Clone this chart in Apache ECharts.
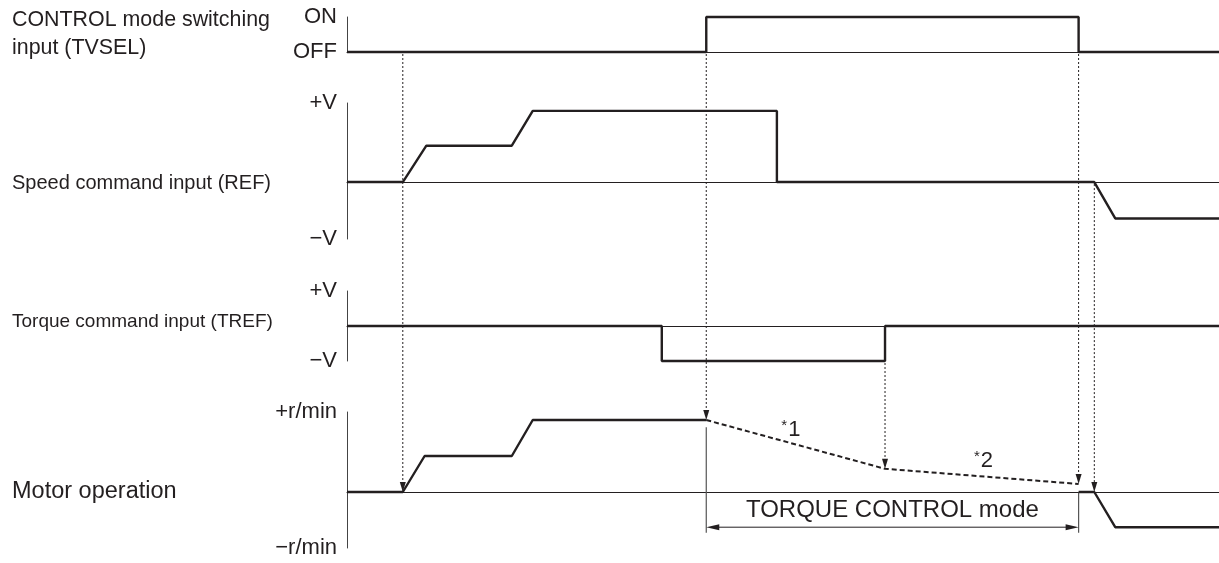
<!DOCTYPE html>
<html>
<head>
<meta charset="utf-8">
<script src="https://cdn.jsdelivr.net/npm/echarts@6/dist/echarts.min.js"></script>
<style>
  html, body { margin: 0; padding: 0; background: #fff; }
  #chart { width: 1219px; height: 563px; }
</style>
</head>
<body>
<div id="chart"></div>
<script>
const FONT = '"Liberation Sans", Arial, Helvetica, sans-serif'
const INK = '#231f20'

// lanes, top to bottom
const laneTitles = [
  ['CONTROL mode switching', 'input (TVSEL)'],
  ['Speed command input (REF)'],
  ['Torque command input (TREF)'],
  ['Motor operation']
]
const laneTicks = [['OFF', 'ON'], ['−V', '+V'], ['−V', '+V'], ['−r/min', '+r/min']]
const laneRanges = [[0, 1], [-0.72, 1], [-1, 1], [-0.7, 1]]

// signals: [time, level]
const tvsel = [[0, 0], [41.2, 0], [41.2, 1], [83.9, 1], [83.9, 0], [100, 0]]
const speedRef = [[0, 0], [6.4, 0], [9.1, 0.46], [18.9, 0.46], [21.3, 0.9], [49.3, 0.9], [49.3, 0], [85.7, 0], [88.1, -0.46], [100, -0.46]]
const torqueRef = [[0, 0], [36.1, 0], [36.1, -1], [61.7, -1], [61.7, 0], [100, 0]]
const motorSpeed = [[0, 0], [6.4, 0], [8.9, 0.45], [18.9, 0.45], [21.3, 0.9], [41.2, 0.9]]
const motorTorqueMode = [[41.2, 0.9], [61.7, 0.29], [83.9, 0.1]]
const motorAfter = [[83.9, 0], [85.7, 0], [88.1, -0.44], [100, -0.44]]

// dotted cause -> effect arrows: [time, fromLane, fromLevel, motorLevel]
const dropArrows = [
  [6.4, 0, 0, 0],
  [41.2, 0, 0, 0.9],
  [61.7, 2, -1, 0.29],
  [83.9, 0, 0, 0.1],
  [85.7, 1, 0, 0]
]

// torque control span on the motor lane
const modeSpan = [41.2, 83.9]
const modeLabel = 'TORQUE CONTROL mode'
// notes on the motor lane: [time, level, mark]
const notes = [[50.9, 0.775, '1'], [73.0, 0.39, '2']]

const chart = echarts.init(document.getElementById('chart'))

const grids = [
  { top: 17, height: 35 },
  { top: 103, height: 136 },
  { top: 291, height: 70 },
  { top: 412, height: 136 }
].map(g => ({ left: 347, right: 0, ...g }))

const xAxes = grids.map((g, i) => ({
  type: 'value',
  gridIndex: i,
  min: 0,
  max: 100,
  axisLine: { show: true, onZero: true, lineStyle: { color: INK, width: 1 } },
  axisTick: { show: false },
  axisLabel: { show: false },
  splitLine: { show: false }
}))

const yAxes = laneRanges.map(([min, max], i) => ({
  type: 'value',
  gridIndex: i,
  min,
  max,
  axisLine: { show: true, onZero: false, lineStyle: { color: '#444', width: 1 } },
  axisTick: { show: false },
  splitLine: { show: false },
  axisLabel: {
    customValues: [min, max],
    formatter: v => (v === max ? laneTicks[i][1] : laneTicks[i][0]),
    color: INK,
    fontFamily: FONT,
    fontSize: 22,
    margin: 10
  }
}))

function signal(data, lane, dashed) {
  return {
    type: 'line',
    xAxisIndex: lane,
    yAxisIndex: lane,
    data,
    symbol: 'none',
    clip: false,
    silent: true,
    lineStyle: { color: INK, width: dashed ? 2 : 2.4, type: dashed ? [5, 3] : 'solid' }
  }
}

chart.setOption({
  animation: false,
  backgroundColor: '#fff',
  grid: grids,
  xAxis: xAxes,
  yAxis: yAxes,
  series: [
    signal(tvsel, 0),
    signal(speedRef, 1),
    signal(torqueRef, 2),
    signal(motorSpeed, 3),
    signal(motorTorqueMode, 3, true),
    signal(motorAfter, 3)
  ]
})

const px = (lane, t, v) => chart.convertToPixel({ gridIndex: lane }, [t, v])

function headDown(x, y) {
  return { type: 'polygon', shape: { points: [[x, y], [x - 3, y - 10], [x + 3, y - 10]] }, style: { fill: INK }, z: 20 }
}
function headSide(x, y, dir) {
  return { type: 'polygon', shape: { points: [[x, y], [x - dir * 13, y - 3], [x - dir * 13, y + 3]] }, style: { fill: INK }, z: 20 }
}

const graphics = []

// lane titles
const titleStyles = [
  { y: [20, 48], size: 21.4 },
  { y: [183], size: 20 },
  { y: [322], size: 19 },
  { y: [492], size: 23.5 }
]
laneTitles.forEach((lines, i) => {
  lines.forEach((text, j) => {
    graphics.push({
      type: 'text', x: 12, y: titleStyles[i].y[j],
      style: { text, fill: INK, font: `${titleStyles[i].size}px ${FONT}`, textVerticalAlign: 'middle' }
    })
  })
})

// dotted arrows
dropArrows.forEach(([t, lane, from, to]) => {
  const [x, y1] = px(lane, t, from)
  const [, y2] = px(3, t, to)
  graphics.push({
    type: 'line',
    shape: { x1: x, y1: y1 + 2, x2: x, y2: y2 - 9 },
    style: { stroke: INK, lineWidth: 1, lineDash: [2, 2] },
    z: 15
  })
  graphics.push(headDown(x, y2))
})

// torque control span
const [xa, yTop] = px(3, modeSpan[0], 0.81)
const [xb, yZero] = px(3, modeSpan[1], -0.01)
const [, yBottom] = px(3, modeSpan[0], -0.51)
const [, yDim] = px(3, modeSpan[0], -0.44)
const [xMid, yText] = px(3, (modeSpan[0] + modeSpan[1]) / 2, -0.225)
graphics.push(
  { type: 'line', shape: { x1: xa, y1: yTop, x2: xa, y2: yBottom }, style: { stroke: '#555', lineWidth: 1.2 }, z: 15 },
  { type: 'line', shape: { x1: xb, y1: yZero, x2: xb, y2: yBottom }, style: { stroke: '#555', lineWidth: 1.2 }, z: 15 },
  { type: 'line', shape: { x1: xa + 10, y1: yDim, x2: xb - 10, y2: yDim }, style: { stroke: INK, lineWidth: 1 }, z: 15 },
  headSide(xa, yDim, -1),
  headSide(xb, yDim, 1),
  {
    type: 'text', x: xMid, y: yText,
    style: { text: modeLabel, fill: INK, font: `24px ${FONT}`, textAlign: 'center', textVerticalAlign: 'middle' },
    z: 15
  }
)

// *1, *2
notes.forEach(([t, v, mark]) => {
  const [x, y] = px(3, t, v)
  graphics.push({
    type: 'text', x, y,
    style: {
      text: '{s|*}{n|' + mark + '}',
      textAlign: 'center',
      textVerticalAlign: 'middle',
      rich: {
        s: { fontSize: 15, fontFamily: FONT, fill: INK, verticalAlign: 'top', padding: [0, 1, 8, 0] },
        n: { fontSize: 22, fontFamily: FONT, fill: INK }
      }
    },
    z: 15
  })
})

chart.setOption({ graphic: graphics })
</script>
</body>
</html>
